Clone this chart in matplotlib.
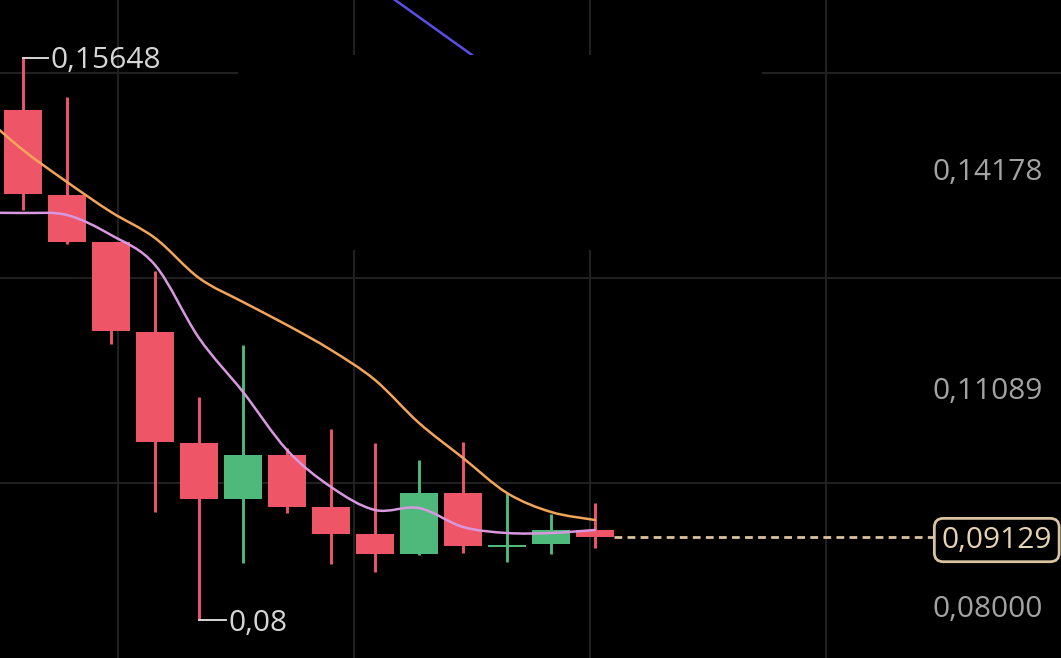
import matplotlib
matplotlib.use("Agg")
import matplotlib.pyplot as plt
import matplotlib.transforms as mtrans
from matplotlib.patches import Rectangle, PathPatch
from matplotlib.path import Path
import numpy as np

# ---------------- data ----------------
idx = list(range(14))
opens  = [0.14940, 0.13783, 0.13144, 0.11919, 0.10409, 0.09647, 0.10245, 0.09538, 0.09170, 0.08898, 0.09728, 0.08990, 0.09034, 0.09225]
highs  = [0.15648, 0.15117, 0.13144, 0.12749, 0.11035, 0.11742, 0.10341, 0.10599, 0.10409, 0.10177, 0.10422, 0.09728, 0.09442, 0.09592]
lows   = [0.13579, 0.13117, 0.11756, 0.09470, 0.08000, 0.08776, 0.09456, 0.08762, 0.08653, 0.08885, 0.08912, 0.08789, 0.08898, 0.08980]
closes = [0.13797, 0.13144, 0.11933, 0.10422, 0.09647, 0.10245, 0.09538, 0.09170, 0.08898, 0.09728, 0.09007, 0.09025, 0.09225, 0.09129]

ma_x = [-1, 0, 1, 2, 3, 4, 5, 6, 7, 8, 9, 10, 11, 12, 13]
ma_slow = [0.14913, 0.14396, 0.13960, 0.13552, 0.13198, 0.12654, 0.12327, 0.12014, 0.11674, 0.11266, 0.10681, 0.10205, 0.09728, 0.09470, 0.09361]
ma_fast = [0.13539, 0.13539, 0.13511, 0.13239, 0.12831, 0.11837, 0.11103, 0.10313, 0.09810, 0.09497, 0.09524, 0.09266, 0.09184, 0.09184, 0.09225]
ma_long_x = [7, 8, 9, 10, 11]
ma_long = [0.17059, 0.16632, 0.16204, 0.15776, 0.15348]

axis_labels = ["0,14178", "0,11089", "0,08000"]
axis_label_vals = [0.14124, 0.11157, 0.08190]
grid_y = [0.15444, 0.12654, 0.09864]
grid_x = [2.159, 7.523, 12.886, 18.25]

last_price = 0.09129
last_label = "0,09129"
high_label = "0,15648"
low_label = "0,08"

# ---------------- style ----------------
RED = "#ee5668"
GREEN = "#4fb97b"
ORANGE = "#f2a55a"
PURPLE = "#d898e0"
BLUE = "#5a4ee8"
GRID = "#202020"
TXT = "#a3a3a3"
HL = "#d6d6d6"
TAN = "#d9c3a0"

plt.rcParams["font.family"] = ["Open Sans", "DejaVu Sans"]

W, H = 1061, 658
fig = plt.figure(figsize=(W / 100, H / 100), dpi=100, facecolor="black")
ax = fig.add_axes([0, 0, 1, 1], facecolor="black")
ax.set_xlim(-0.523, 23.59)
ax.set_ylim(0.07483, 0.16437)
ax.axis("off")


def smooth_line(xs, ys, color, lw, z):
    """Draw a smooth (Catmull-Rom style) curve through the data points."""
    xs = np.asarray(xs, float)
    ys = np.asarray(ys, float)
    verts = [(xs[0], ys[0])]
    codes = [Path.MOVETO]
    n = len(xs)
    for i in range(n - 1):
        x0, y0 = (xs[i - 1], ys[i - 1]) if i > 0 else (xs[i], ys[i])
        x1, y1 = xs[i], ys[i]
        x2, y2 = xs[i + 1], ys[i + 1]
        x3, y3 = (xs[i + 2], ys[i + 2]) if i + 2 < n else (xs[i + 1], ys[i + 1])
        c1 = (x1 + (x2 - x0) / 6, y1 + (y2 - y0) / 6)
        c2 = (x2 - (x3 - x1) / 6, y2 - (y3 - y1) / 6)
        verts += [c1, c2, (x2, y2)]
        codes += [Path.CURVE4] * 3
    ax.add_patch(PathPatch(Path(verts, codes), fc="none", ec=color, lw=lw, zorder=z,
                           capstyle="round", joinstyle="round"))


# grid
for gy in grid_y:
    ax.axhline(gy, color=GRID, lw=1.5, zorder=0)
for gx in grid_x:
    ax.axvline(gx, color=GRID, lw=1.5, zorder=0)

# long MA (mostly hidden)
ax.plot(ma_long_x, ma_long, color=BLUE, lw=1.8, zorder=1, solid_capstyle="butt")

# occluding panel
ax.add_patch(Rectangle((238 / W, 1 - 250 / H), (762 - 238) / W, (250 - 55) / H,
                       transform=ax.transAxes, facecolor="black", edgecolor="none", zorder=2))

# candles
cols = [GREEN if c >= o else RED for o, c in zip(opens, closes)]
ax.vlines(idx, lows, highs, colors=cols, lw=2.1, zorder=3)
bottoms = [min(o, c) for o, c in zip(opens, closes)]
heights = [abs(c - o) for o, c in zip(opens, closes)]
ax.bar(idx, heights, bottom=bottoms, width=0.864, color=cols, lw=0, zorder=4)

# moving averages
smooth_line(ma_x, ma_slow, ORANGE, 1.8, 5)
smooth_line(ma_x, ma_fast, PURPLE, 1.8, 5)

# last price dashed line
ax.plot([13.43, 20.70], [last_price, last_price], color=TAN, lw=2.0,
        ls=(0, (2.8, 1.9)), zorder=3)

# text transforms shifted down slightly so digits are visually centred
tr_data = mtrans.offset_copy(ax.transData, fig=fig, x=0, y=-3, units="dots")
tr_blend = mtrans.offset_copy(mtrans.blended_transform_factory(ax.transAxes, ax.transData),
                              fig=fig, x=0, y=-3, units="dots")

# high / low markers
ih = int(np.argmax(highs))
il = int(np.argmin(lows))
ax.plot([ih, ih + 0.57], [highs[ih], highs[ih]], color=HL, lw=1.4, zorder=6)
ax.text(ih + 0.62, highs[ih], high_label, transform=tr_data, color=HL, fontsize=21.5,
        va="center", ha="left", zorder=6)
ax.plot([il, il + 0.62], [lows[il], lows[il]], color=HL, lw=1.4, zorder=6)
ax.text(il + 0.68, lows[il], low_label, transform=tr_data, color=HL, fontsize=21.5,
        va="center", ha="left", zorder=6)

# axis labels
for lab, v in zip(axis_labels, axis_label_vals):
    ax.text(1043 / W, v, lab, transform=tr_blend, color=TXT, fontsize=21.5,
            ha="right", va="center")

# last price box
ax.text(1052 / W, last_price, last_label, transform=tr_blend, color="#e6d3b3",
        fontsize=21.5, ha="right", va="center", zorder=8,
        bbox=dict(boxstyle="round,pad=0.24,rounding_size=0.3", fc="black", ec=TAN, lw=2))

fig.savefig("out.png", dpi=100, facecolor="black")
